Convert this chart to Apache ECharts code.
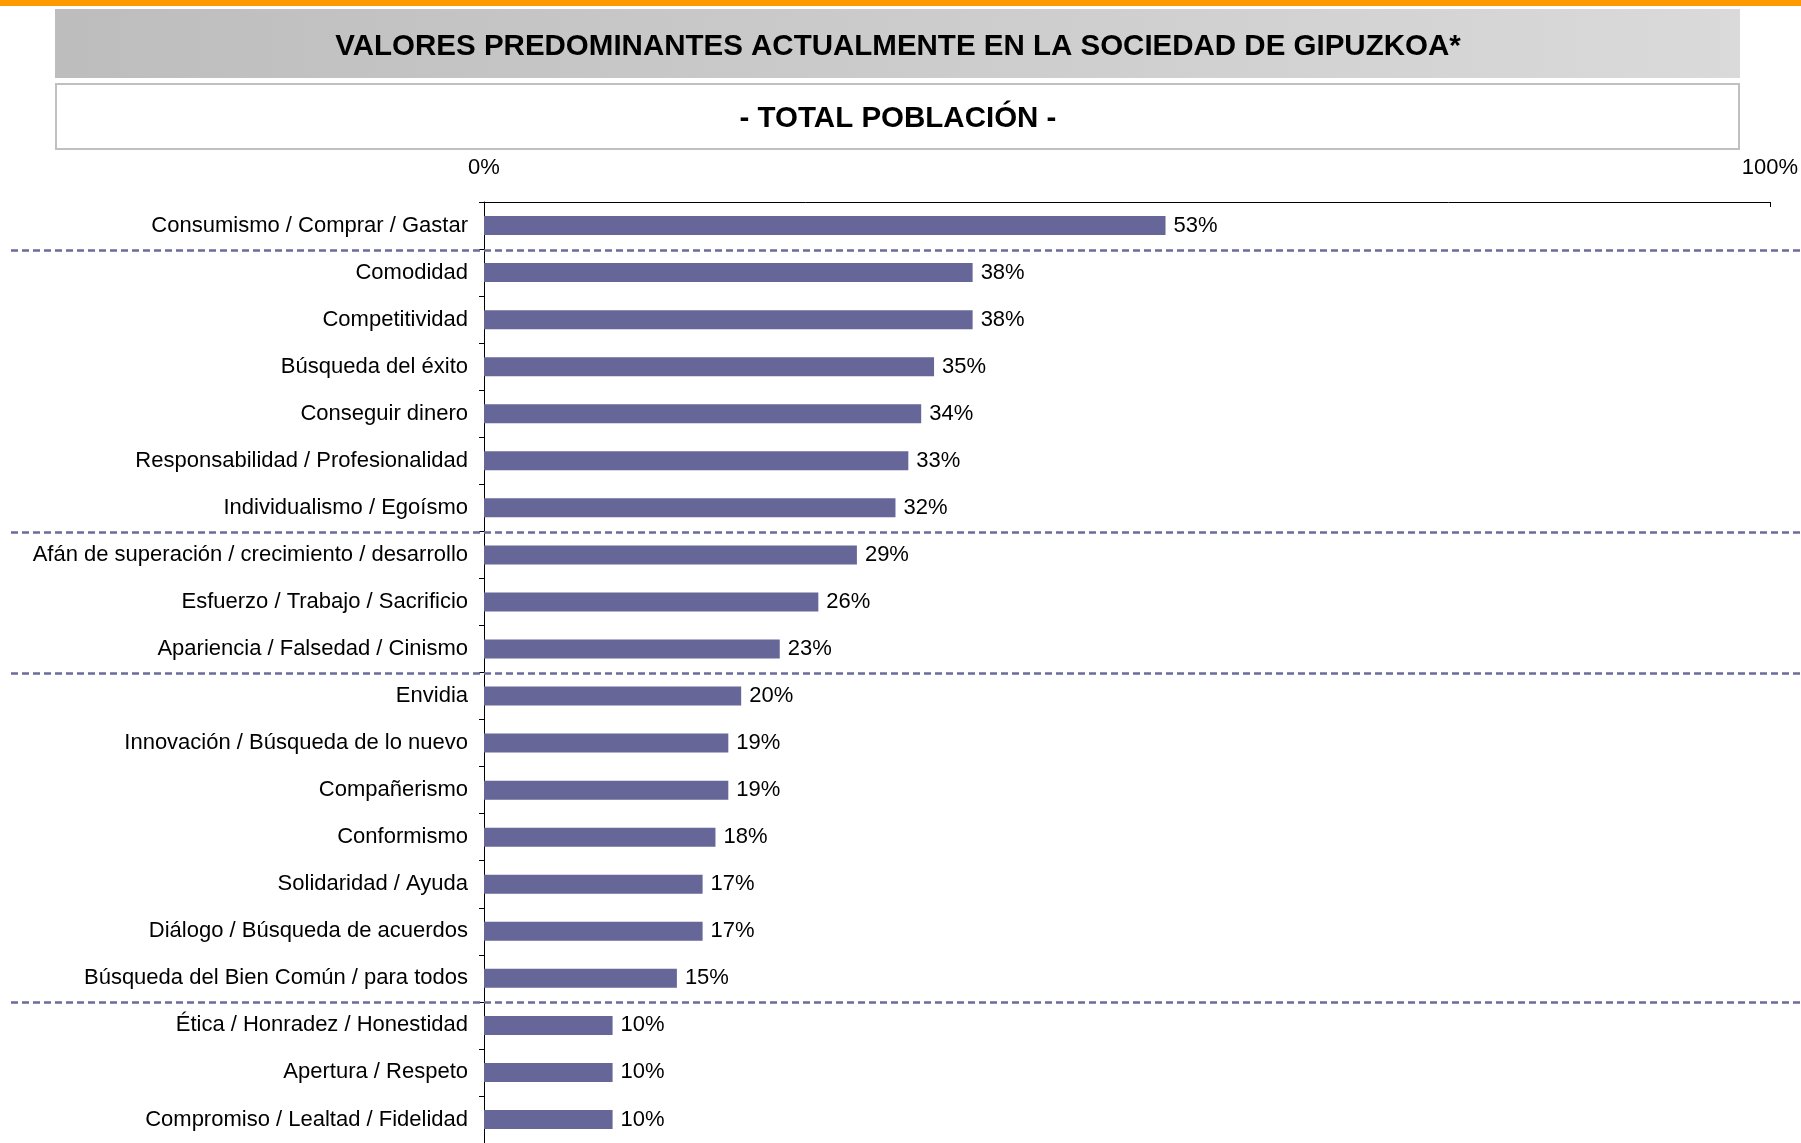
<!DOCTYPE html>
<html>
<head>
<meta charset="utf-8">
<script src="https://cdn.jsdelivr.net/npm/echarts@6/dist/echarts.min.js"></script>
<style>
html,body{margin:0;padding:0;background:#fff;}
#chart{width:1801px;height:1143px;}
</style>
</head>
<body>
<div id="chart"></div>
<script>
var titleText = 'VALORES PREDOMINANTES ACTUALMENTE EN LA SOCIEDAD DE GIPUZKOA*';
var subtitleText = '- TOTAL POBLACIÓN -';
var categories = [
  'Consumismo / Comprar / Gastar',
  'Comodidad',
  'Competitividad',
  'Búsqueda del éxito',
  'Conseguir dinero',
  'Responsabilidad / Profesionalidad',
  'Individualismo / Egoísmo',
  'Afán de superación / crecimiento / desarrollo',
  'Esfuerzo / Trabajo / Sacrificio',
  'Apariencia / Falsedad / Cinismo',
  'Envidia',
  'Innovación / Búsqueda de lo nuevo',
  'Compañerismo',
  'Conformismo',
  'Solidaridad / Ayuda',
  'Diálogo / Búsqueda de acuerdos',
  'Búsqueda del Bien Común / para todos',
  'Ética / Honradez / Honestidad',
  'Apertura / Respeto',
  'Compromiso / Lealtad / Fidelidad'
];
var values = [53, 38, 38, 35, 34, 33, 32, 29, 26, 23, 20, 19, 19, 18, 17, 17, 15, 10, 10, 10];
// group separators: boundary before these category indices
var groupStarts = [1, 7, 10, 17];
var xTicks = [0, 100];

var FONT = "'Liberation Sans', Arial, sans-serif";

var chart = echarts.init(document.getElementById('chart'));
chart.setOption({
  animation: false,
  backgroundColor: '#ffffff',
  graphic: [
    {type: 'rect', shape: {x: 0, y: 0, width: 1801, height: 6}, style: {fill: '#ff9900'}, silent: true},
    {type: 'rect', shape: {x: 55, y: 9, width: 1685, height: 69},
     style: {fill: new echarts.graphic.LinearGradient(0, 0, 1, 0, [{offset: 0, color: '#bdbdbd'}, {offset: 1, color: '#dadada'}])}, silent: true},
    {type: 'rect', shape: {x: 56, y: 84, width: 1683, height: 65}, style: {fill: '#ffffff', stroke: '#c0c0c0', lineWidth: 2}, silent: true},
    {type: 'text', x: 898, y: 47, style: {text: titleText, fontFamily: FONT, fontSize: 29.5, fontWeight: 'bold', fill: '#000', align: 'center', verticalAlign: 'middle'}, silent: true},
    {type: 'text', x: 898, y: 119, style: {text: subtitleText, fontFamily: FONT, fontSize: 29.5, fontWeight: 'bold', fill: '#000', align: 'center', verticalAlign: 'middle'}, silent: true}
  ],
  grid: [
    {left: 484, right: 31, top: 202, bottom: 0, containLabel: false},
    {left: 11, right: 0, top: 203.5, bottom: -1.5, containLabel: false}
  ],
  xAxis: [
    {
      gridIndex: 0, type: 'value', position: 'top', min: xTicks[0], max: xTicks[1], interval: xTicks[1] - xTicks[0],
      axisLine: {show: true, lineStyle: {color: '#000', width: 1}},
      axisTick: {show: true, inside: true, length: 5, lineStyle: {color: '#000'}},
      axisLabel: {show: true, formatter: '{value}%', fontFamily: FONT, fontSize: 22, color: '#000', margin: 23},
      splitLine: {show: false}
    },
    {gridIndex: 1, type: 'value', min: 0, max: 100, show: false}
  ],
  yAxis: [
    {
      gridIndex: 0, type: 'category', data: categories, inverse: true,
      axisLine: {show: true, lineStyle: {color: '#000', width: 1}},
      axisTick: {show: true, length: 5, lineStyle: {color: '#000'}},
      axisLabel: {fontFamily: FONT, fontSize: 22, color: '#000', margin: 16},
      splitLine: {show: false}
    },
    {
      gridIndex: 1, type: 'value', min: 0, max: categories.length, inverse: true, show: false
    }
  ],
  series: [
    {
      type: 'bar', xAxisIndex: 0, yAxisIndex: 0, data: values, barWidth: 19, z: 3,
      itemStyle: {color: '#666699'},
      label: {show: true, position: 'right', distance: 8, formatter: '{c}%', fontFamily: FONT, fontSize: 22, color: '#000'}
    },
    {
      type: 'line', xAxisIndex: 1, yAxisIndex: 1, z: 2, silent: true,
      data: groupStarts.map(function (g) { return [0, g]; }),
      showSymbol: false, symbol: 'none', lineStyle: {opacity: 0, width: 0},
      markLine: {
        silent: true, symbol: 'none', label: {show: false},
        lineStyle: {color: '#6b6b9c', width: 2.5, type: [7, 4]},
        emphasis: {disabled: true},
        data: groupStarts.map(function (g) { return {yAxis: g}; })
      }
    }
  ]
});
</script>
</body>
</html>
